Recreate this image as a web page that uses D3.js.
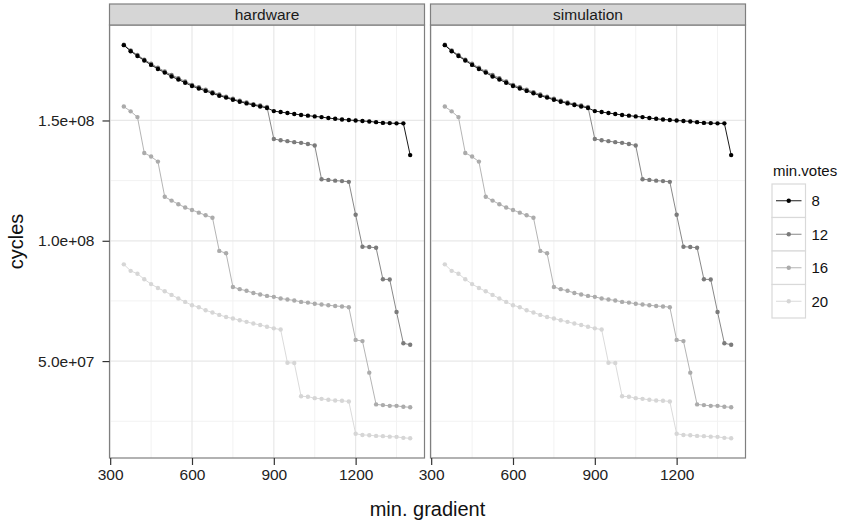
<!DOCTYPE html>
<html>
<head>
<meta charset="utf-8">
<script src="https://cdn.jsdelivr.net/npm/d3@7"></script>
<style>
  body { margin: 0; background: #fff; }
  svg { font-family: "Liberation Sans", Arial, sans-serif; }
</style>
</head>
<body>
<svg id="chart" width="845" height="523"></svg>
<script>
'use strict';

// data, cycles in millions
const panels = ['hardware', 'simulation'];
const minVotes = [8, 12, 16, 20];
const minGradient = [350, 375, 400, 425, 450, 475, 500, 525, 550, 575, 600, 625, 650, 675, 700,
  725, 750, 775, 800, 825, 850, 875, 900, 925, 950, 975, 1000, 1025, 1050, 1075, 1100, 1125,
  1150, 1175, 1200, 1225, 1250, 1275, 1300, 1325, 1350, 1375, 1400];
const cycles8 = [181.3, 178.8, 176.8, 174.9, 173.1, 171.4, 169.9, 168.3, 167.0, 165.7, 164.3,
  163.3, 162.3, 161.3, 160.3, 159.5, 158.6, 157.8, 157.1, 156.4, 155.8, 155.2, 153.9, 153.5,
  153.1, 152.7, 152.3, 152.0, 151.7, 151.4, 151.0, 150.7, 150.4, 150.2, 150.0, 149.8, 149.6,
  149.3, 149.0, 148.9, 148.8, 148.8, 135.6];
const cycles12 = [181.5, 179.1, 177.2, 175.3, 173.6, 171.9, 170.4, 168.9, 167.6, 166.2, 164.8,
  163.8, 162.8, 161.8, 160.8, 159.9, 159.0, 158.2, 157.5, 156.8, 156.2, 155.6, 142.3, 141.8,
  141.4, 141.0, 140.7, 140.2, 139.6, 125.6, 125.3, 125.0, 124.8, 124.5, 110.8, 97.5, 97.4,
  97.1, 84.0, 83.9, 70.4, 57.4, 56.8];
const cycles16 = [155.8, 153.8, 151.4, 136.5, 135.0, 132.9, 118.3, 116.7, 115.2, 113.8, 112.8,
  111.7, 110.6, 109.6, 95.8, 94.8, 80.8, 79.9, 79.2, 78.3, 77.7, 77.1, 76.7, 76.0, 75.6, 75.2,
  74.6, 74.3, 73.8, 73.5, 73.2, 72.9, 72.7, 72.4, 58.8, 58.3, 45.2, 32.0, 31.7, 31.4, 31.4,
  31.0, 30.8];
const cycles20 = [90.2, 87.5, 86.3, 84.0, 82.0, 80.4, 79.0, 77.5, 76.0, 74.6, 73.2, 72.4, 71.1,
  70.2, 69.2, 68.3, 67.7, 67.0, 66.3, 65.6, 65.0, 64.3, 63.6, 63.1, 49.3, 49.2, 35.4, 35.2,
  34.6, 34.3, 33.9, 33.6, 33.5, 33.2, 19.8, 19.3, 19.2, 18.9, 18.8, 18.6, 18.5, 18.1, 17.9];
// simulation matches hardware at this resolution
const panelCycles = {
  hardware: [cycles8, cycles12, cycles16, cycles20],
  simulation: [cycles8, cycles12, cycles16, cycles20]
};
const xTicks = [300, 600, 900, 1200];
const xMinor = [450, 750, 1050, 1350];
const yTicks = [50e6, 100e6, 150e6];
const yMinor = [25e6, 75e6, 125e6];
const votesColor = ['#000000', '#7b7b7b', '#ababab', '#d6d6d6'];

const svg = d3.select('#chart');
const panelW = 315, panelTop = 25, panelBottom = 458, stripTop = 4;
const panelLeft = [109.5, 430.5];

const expand = ext => {
  const pad = (ext[1] - ext[0]) * 0.05;
  return [ext[0] - pad, ext[1] + pad];
};

const allCycles = minVotes.flatMap((v, i) => panelCycles.hardware[i]).map(c => c * 1e6);
const y = d3.scaleLinear()
  .domain(expand(d3.extent(allCycles)))
  .range([panelBottom, panelTop]);
const xDomain = expand(d3.extent(minGradient));

const seriesFor = name => minVotes.map((v, i) => ({
  votes: v,
  color: votesColor[i],
  points: minGradient.map((g, j) => ({ g, c: panelCycles[name][i][j] * 1e6 }))
}));

panels.forEach((name, pi) => {
  const left = panelLeft[pi];
  const x = d3.scaleLinear().domain(xDomain).range([left, left + panelW]);
  const g = svg.append('g');

  g.append('rect')
    .attr('x', left).attr('y', panelTop)
    .attr('width', panelW).attr('height', panelBottom - panelTop)
    .attr('fill', '#fff');

  // grid
  g.selectAll('.vminor').data(xMinor).join('line')
    .attr('x1', d => x(d)).attr('x2', d => x(d))
    .attr('y1', panelTop).attr('y2', panelBottom)
    .attr('stroke', '#f2f2f2').attr('stroke-width', 1);
  g.selectAll('.hminor').data(yMinor).join('line')
    .attr('x1', left).attr('x2', left + panelW)
    .attr('y1', d => y(d)).attr('y2', d => y(d))
    .attr('stroke', '#f2f2f2').attr('stroke-width', 1);
  g.selectAll('.vmajor').data(xTicks).join('line')
    .attr('x1', d => x(d)).attr('x2', d => x(d))
    .attr('y1', panelTop).attr('y2', panelBottom)
    .attr('stroke', '#e8e8e8').attr('stroke-width', 1.2);
  g.selectAll('.hmajor').data(yTicks).join('line')
    .attr('x1', left).attr('x2', left + panelW)
    .attr('y1', d => y(d)).attr('y2', d => y(d))
    .attr('stroke', '#e8e8e8').attr('stroke-width', 1.2);

  // lines + points, darkest on top
  const line = d3.line().x(d => x(d.g)).y(d => y(d.c));
  const series = seriesFor(name).slice().reverse();
  g.selectAll('.series-line').data(series).join('path')
    .attr('d', d => line(d.points))
    .attr('fill', 'none')
    .attr('stroke', d => d.color)
    .attr('stroke-width', 0.9);
  series.forEach(s => {
    g.append('g').selectAll('circle').data(s.points).join('circle')
      .attr('cx', d => x(d.g)).attr('cy', d => y(d.c))
      .attr('r', 2.2)
      .attr('fill', s.color);
  });

  // border
  g.append('rect')
    .attr('x', left).attr('y', panelTop)
    .attr('width', panelW).attr('height', panelBottom - panelTop)
    .attr('fill', 'none').attr('stroke', '#7f7f7f').attr('stroke-width', 1.2);

  // strip
  g.append('rect')
    .attr('x', left).attr('y', stripTop)
    .attr('width', panelW).attr('height', panelTop - stripTop)
    .attr('fill', '#d6d6d6').attr('stroke', '#7f7f7f').attr('stroke-width', 1.2);
  g.append('text')
    .attr('x', left + panelW / 2).attr('y', stripTop + 16)
    .attr('text-anchor', 'middle')
    .attr('font-size', 15.5).attr('fill', '#1a1a1a')
    .text(name);

  // x axis
  const xAxis = g.append('g')
    .attr('transform', `translate(0,${panelBottom})`)
    .call(d3.axisBottom(x).tickValues(xTicks).tickSize(7).tickPadding(4).tickFormat(d3.format('d')));
  xAxis.select('.domain').remove();
  xAxis.selectAll('.tick line').attr('stroke', '#333').attr('stroke-width', 1.2);
  xAxis.selectAll('.tick text').attr('font-size', 15.5).attr('fill', '#222')
    .attr('font-family', '"Liberation Sans", Arial, sans-serif');

  if (pi === 0) {
    const yAxis = g.append('g')
      .attr('transform', `translate(${left},0)`)
      .call(d3.axisLeft(y).tickValues(yTicks).tickSize(7).tickPadding(8)
        .tickFormat(d => d3.format('.1e')(d).replace(/e\+(\d)$/, 'e+0$1')));
    yAxis.select('.domain').remove();
    yAxis.selectAll('.tick line').attr('stroke', '#333').attr('stroke-width', 1.2);
    yAxis.selectAll('.tick text').attr('font-size', 15.5).attr('fill', '#222')
      .attr('font-family', '"Liberation Sans", Arial, sans-serif');
  }
});

// axis titles
svg.append('text')
  .attr('x', (panelLeft[0] + panelLeft[1] + panelW) / 2).attr('y', 516)
  .attr('text-anchor', 'middle').attr('font-size', 20).attr('fill', '#111')
  .text('min. gradient');
svg.append('text')
  .attr('transform', `translate(23,${(panelTop + panelBottom) / 2}) rotate(-90)`)
  .attr('text-anchor', 'middle').attr('font-size', 20).attr('fill', '#111')
  .text('cycles');

// legend
const legend = svg.append('g').attr('transform', 'translate(772,184)');
const keySize = 33.5;
legend.append('text')
  .attr('x', 1).attr('y', -8)
  .attr('font-size', 15).attr('fill', '#111')
  .text('min.votes');
const keys = legend.selectAll('.key').data(minVotes).join('g')
  .attr('transform', (d, i) => `translate(0,${i * keySize})`);
keys.append('rect')
  .attr('width', keySize).attr('height', keySize)
  .attr('fill', '#fff').attr('stroke', '#d9d9d9').attr('stroke-width', 1.2);
keys.append('line')
  .attr('x1', 4).attr('x2', keySize - 4)
  .attr('y1', keySize / 2).attr('y2', keySize / 2)
  .attr('stroke', (d, i) => votesColor[i]).attr('stroke-width', 0.9);
keys.append('circle')
  .attr('cx', keySize / 2).attr('cy', keySize / 2).attr('r', 2.2)
  .attr('fill', (d, i) => votesColor[i]);
keys.append('text')
  .attr('x', keySize + 6).attr('y', keySize / 2 + 5.5)
  .attr('font-size', 15).attr('fill', '#111')
  .text(d => d);
</script>
</body>
</html>
